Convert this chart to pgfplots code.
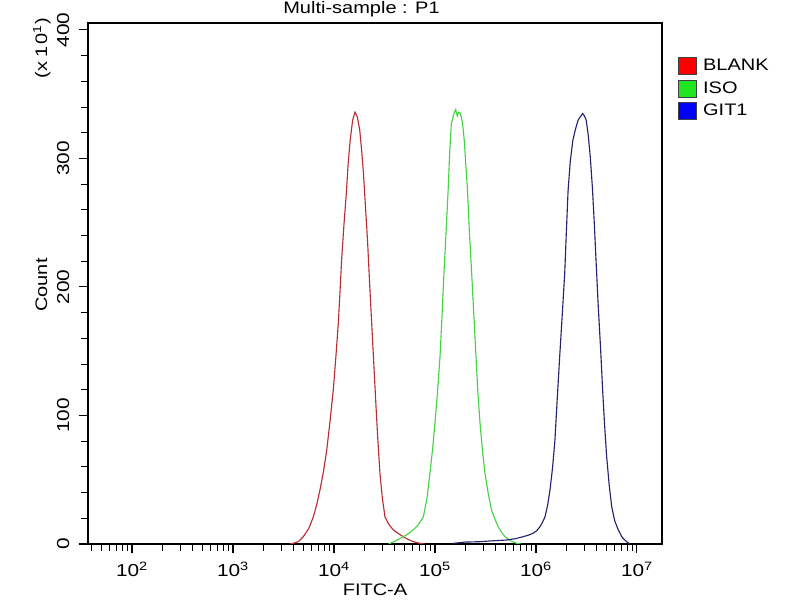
\documentclass[border=0pt]{standalone}
\usepackage{fontspec}
\setmainfont{Liberation Sans}[FakeStretch=1.2]
\usepackage{pgfplots}
\pgfplotsset{compat=1.18}

\definecolor{lblank}{RGB}{185,45,50}
\definecolor{liso}{RGB}{70,210,70}
\definecolor{lgit}{RGB}{35,35,110}
\definecolor{fblank}{RGB}{255,0,0}
\definecolor{fiso}{RGB}{30,230,30}
\definecolor{fgit}{RGB}{0,0,255}

\pgfplotstableread{
x y
3.560 0
3.597 0.5
3.650 2
3.696 5.7
3.750 12
3.795 21
3.830 31
3.861 42
3.895 56
3.928 73
3.960 95
3.993 120
4.018 145
4.043 172
4.060 197
4.077 223
4.100 250
4.124 275
4.140 296
4.160 314
4.185 330
4.208 336
4.232 332
4.255 322
4.274 306
4.292 288
4.312 262
4.332 236
4.352 204
4.373 172
4.395 139
4.416 107
4.435 80
4.455 55
4.480 35
4.505 21
4.545 15
4.587 11
4.640 8
4.686 5.7
4.735 3.5
4.785 1.8
4.850 0.5
4.900 0
}\blank

\pgfplotstableread{
x y
4.540 0
4.600 2
4.686 5.7
4.735 8
4.785 11
4.835 15
4.884 21
4.920 35
4.950 55
4.975 73
5.000 94
5.025 118
5.050 146
5.070 178
5.089 211
5.110 243
5.130 275
5.146 305
5.162 327
5.188 335
5.205 338
5.221 333
5.235 336
5.252 335
5.272 328
5.290 314
5.303 298
5.322 275
5.340 244
5.363 211
5.385 178
5.406 146
5.425 118
5.446 94
5.470 73
5.495 55
5.530 38
5.561 26
5.595 19
5.627 13.5
5.660 9
5.693 5.7
5.750 2.5
5.809 0.5
5.850 0
}\iso

\pgfplotstableread{
x y
5.180 0.5
5.300 1.5
5.446 1.8
5.550 2.4
5.710 3.1
5.800 4.2
5.874 5.7
5.930 7
5.970 8.3
6.010 10.5
6.040 13.5
6.065 17
6.089 21
6.115 30
6.139 42
6.165 60
6.188 81
6.210 112
6.235 146
6.260 178
6.285 211
6.302 245
6.318 275
6.340 298
6.365 314
6.392 323
6.418 330
6.445 333
6.462 335
6.480 333
6.497 330
6.518 318
6.538 301
6.559 277
6.578 249
6.597 217
6.617 184.5
6.640 152
6.660 120
6.680 92
6.700 68
6.725 46
6.750 29
6.780 18
6.815 11
6.855 5
6.897 1.8
6.930 0
}\git

\begin{document}
\begin{tikzpicture}[x=0.75pt,y=0.75pt]
\useasboundingbox (0,0) rectangle (800,600);
\begin{axis}[
  at={(66pt,42pt)}, anchor=south west,
  scale only axis, width=430.5pt, height=390.75pt,
  xmin=1.564, xmax=7.248, ymin=0, ymax=405.4,
  clip mode=individual,
  axis line style={line width=0.9pt},
  tick style={black, line width=0.8pt},
  tick align=outside, tick pos=left,
  major tick length=6.5pt, minor tick length=5.5pt,
  xtick={2,3,4,5,6,7},
  xticklabels={10\textsuperscript{2},10\textsuperscript{3},10\textsuperscript{4},10\textsuperscript{5},10\textsuperscript{6},10\textsuperscript{7}},
  minor xtick={1.602,1.699,1.778,1.845,1.903,1.954,
    2.301,2.477,2.602,2.699,2.778,2.845,2.903,2.954,
    3.301,3.477,3.602,3.699,3.778,3.845,3.903,3.954,
    4.301,4.477,4.602,4.699,4.778,4.845,4.903,4.954,
    5.301,5.477,5.602,5.699,5.778,5.845,5.903,5.954,
    6.301,6.477,6.602,6.699,6.778,6.845,6.903,6.954},
  ytick={0,100,200,300,400},
  minor y tick num=4,
  /pgf/number format/assume math mode=true,
  tick label style={font=\fontsize{13}{15}\selectfont},
  xticklabel style={yshift=-3.75pt},
  yticklabel style={rotate=90, anchor=south, inner ysep=7.3pt},
  every axis title shift=0pt,
  title={Multi-sample : P1},
  title style={at={(axis description cs:0.4765,1.0173)}, anchor=base, font=\fontsize{12.5}{14}\selectfont},
  xlabel={FITC-A},
  xlabel style={at={(axis description cs:0.5,-0.0998)}, anchor=base, font=\fontsize{12.5}{14}\selectfont},
  ylabel={Count},
  ylabel style={at={(axis description cs:-0.0714,0.497)}, anchor=base, font=\fontsize{12.5}{14}\selectfont},
  legend style={at={(axis description cs:1.028,0.935)}, anchor=north west,
    draw=none, fill=none, inner sep=0pt, row sep=3.2pt,
    font=\fontsize{12.5}{14}\selectfont,
    nodes={inner xsep=4.5pt, inner ysep=0pt}},
  legend cell align=left,
]
\addplot[lblank, line width=0.85pt, forget plot] table[x=x,y=y] {\blank};
\addplot[liso, line width=0.85pt, forget plot] table[x=x,y=y] {\iso};
\addplot[lgit, line width=0.85pt, forget plot] table[x=x,y=y] {\git};
\addlegendimage{legend image code/.code={\draw[draw=black!75, fill=fblank, line width=0.6pt] (0pt,-6.5pt) rectangle (13.5pt,6.5pt);}}
\addlegendentry{BLANK}
\addlegendimage{legend image code/.code={\draw[draw=black!75, fill=fiso, line width=0.6pt] (0pt,-6.5pt) rectangle (13.5pt,6.5pt);}}
\addlegendentry{ISO}
\addlegendimage{legend image code/.code={\draw[draw=black!75, fill=fgit, line width=0.6pt] (0pt,-6.5pt) rectangle (13.5pt,6.5pt);}}
\addlegendentry{GIT1}
\node[rotate=90, anchor=base, font=\fontsize{12.5}{14}\selectfont] at (axis description cs:-0.0714,0.952) {(x\hspace{3pt}1\hspace{1.5pt}0\textsuperscript{1})};
\end{axis}
\end{tikzpicture}
\end{document}
